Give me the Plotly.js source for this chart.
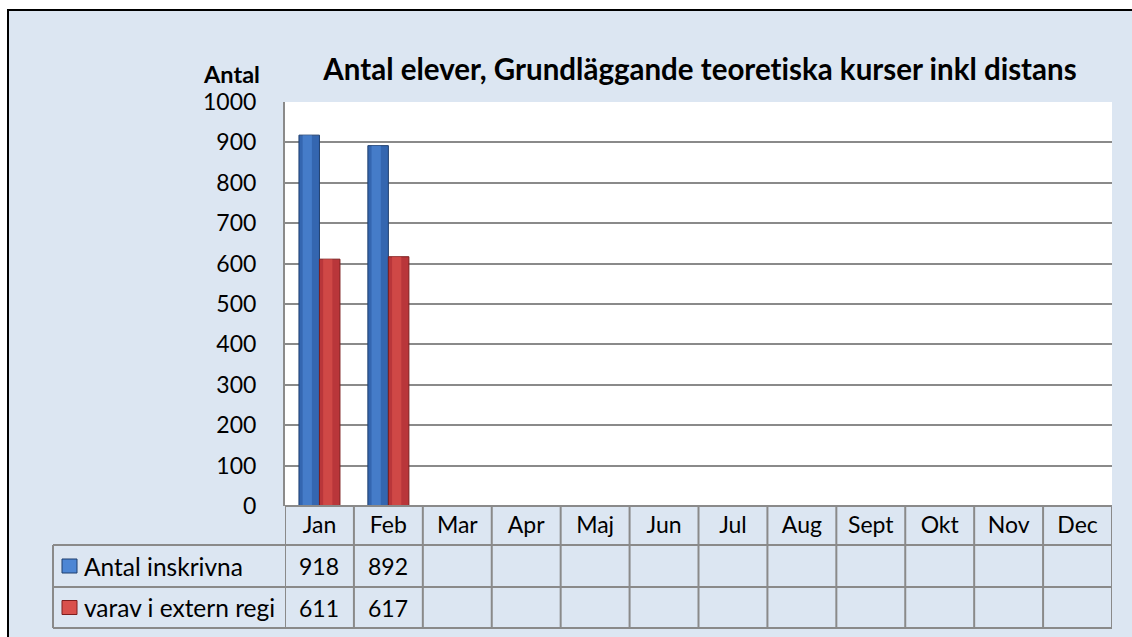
<!DOCTYPE html>
<html><head><meta charset="utf-8">
<script src="https://cdn.plot.ly/plotly-3.0.1.min.js"></script>
<style>
html,body{margin:0;padding:0;background:#fff;width:1132px;height:637px;overflow:hidden}
#frame{position:absolute;left:7px;top:9px;width:1200px;height:700px;background:#dce6f2;border-left:2px solid #000;border-top:2px solid #000}
#chart{position:absolute;left:0;top:0;width:1132px;height:637px}
#chart text{font-variant-ligatures:none;font-feature-settings:"liga" 0}
</style></head><body>
<div id="frame"></div><div id="chart"></div>
<script>
const months = ['Jan','Feb','Mar','Apr','Maj','Jun','Jul','Aug','Sept','Okt','Nov','Dec'];
const seriesNames = ['Antal inskrivna','varav i extern regi'];
const inskrivna = [918, 892, null, null, null, null, null, null, null, null, null, null];
const externRegi = [611, 617, null, null, null, null, null, null, null, null, null, null];
const seriesValues = [inskrivna, externRegi];
const baseColors = ['#3466b0', '#b9363a'];
const lightColors = ['#4d86d4', '#d9504c'];
const edgeColors = ['#1f3f6e', '#7d1e1e'];
const yTicks = [0,100,200,300,400,500,600,700,800,900,1000];

const FONT = 'Lato, "Open Sans", sans-serif';
const BW = 0.2975;      // bar width in category units
const GRID = '#8a8a8a';

const traces = [];
seriesValues.forEach((vals, i) => {
  traces.push({
    type: 'bar', x: months, y: vals, name: seriesNames[i],
    offset: i === 0 ? -BW : 0, width: BW,
    marker: {color: baseColors[i], line: {color: edgeColors[i], width: 1}},
    hoverinfo: 'x+y', showlegend: false
  });
  traces.push({
    type: 'bar', x: months, y: vals, name: seriesNames[i] + ' hl',
    offset: (i === 0 ? -BW : 0) + BW * 0.18, width: BW * 0.45,
    marker: {color: lightColors[i], opacity: 0.7, line: {width: 0}},
    hoverinfo: 'skip', showlegend: false
  });
});

// table geometry in paper units
const H = 404, W = 827;
const yH = -39 / H, y2 = -81 / H, y3 = -122 / H;
const xL = (53 - 285) / W;
const shapes = [];
const line = {color: GRID, width: 2};
for (let k = 0; k <= months.length; k++) {
  shapes.push({type: 'line', xref: 'x', yref: 'paper', x0: k - 0.5, x1: k - 0.5, y0: 0, y1: y3, line});
}
[0, yH, y2, y3].forEach((yy, j) => {
  shapes.push({type: 'line', xref: 'paper', yref: 'paper', x0: j === 0 ? 0 : xL, x1: 1, y0: yy, y1: yy, line});
});
shapes.push({type: 'line', xref: 'paper', yref: 'paper', x0: xL, x1: xL, y0: yH, y1: y3, line});

const annotations = [];
const rowCenters = [(yH + y2) / 2, (y2 + y3) / 2];
seriesValues.forEach((vals, i) => {
  vals.forEach((v, k) => {
    if (v !== null) annotations.push({xref: 'x', yref: 'paper', x: months[k], y: rowCenters[i],
      xanchor: 'center', yanchor: 'middle',
      text: String(v), showarrow: false, font: {family: FONT, size: 23, color: '#000'}});
  });
  // legend key
  const ix0 = (62 - 285) / W, ix1 = (77 - 285) / W;
  const ih = 7 / H;
  shapes.push({type: 'rect', xref: 'paper', yref: 'paper', x0: ix0, x1: ix1,
    y0: rowCenters[i] - ih, y1: rowCenters[i] + ih,
    fillcolor: lightColors[i], line: {color: edgeColors[i], width: 1}});
  annotations.push({xref: 'paper', yref: 'paper', x: (82 - 285) / W, y: rowCenters[i],
    xanchor: 'left', yanchor: 'middle', text: seriesNames[i], showarrow: false,
    font: {family: FONT, size: 24.5, color: '#000'}});
});
annotations.push({xref: 'paper', yref: 'paper', x: (262 - 285) / W, y: (506 - 74) / H,
  xanchor: 'right', yanchor: 'middle', text: 'Antal', showarrow: false,
  font: {family: FONT, size: 23.5, color: '#000', weight: 'bold'}});

const layout = {
  width: 1132, height: 637,
  paper_bgcolor: 'rgba(0,0,0,0)', plot_bgcolor: '#ffffff',
  margin: {l: 285, r: 20, t: 102, b: 131},
  barmode: 'overlay',
  title: {text: 'Antal elever, Grundläggande teoretiska kurser inkl distans',
    font: {family: FONT, size: 29.5, color: '#000', weight: 'bold'},
    xref: 'container', x: 700 / 1132, xanchor: 'center',
    yref: 'container', y: 1 - 70 / 637, yanchor: 'middle'},
  xaxis: {type: 'category', categoryarray: months, categoryorder: 'array',
    range: [-0.5, months.length - 0.5], showgrid: false, zeroline: false,
    showline: false, ticks: '', ticklabelstandoff: 3,
    tickfont: {family: FONT, size: 23, color: '#000'}, fixedrange: true},
  yaxis: {range: [0, 1000], tickvals: yTicks, showgrid: true, gridcolor: GRID, gridwidth: 2,
    zeroline: false, showline: true, linecolor: GRID, linewidth: 2, ticks: '',
    ticklabelstandoff: 22, tickfont: {family: FONT, size: 23, color: '#000'}, fixedrange: true},
  shapes, annotations,
  font: {family: FONT, color: '#000'}
};
Plotly.newPlot('chart', traces, layout, {displayModeBar: false, staticPlot: true});
</script>
</body></html>
